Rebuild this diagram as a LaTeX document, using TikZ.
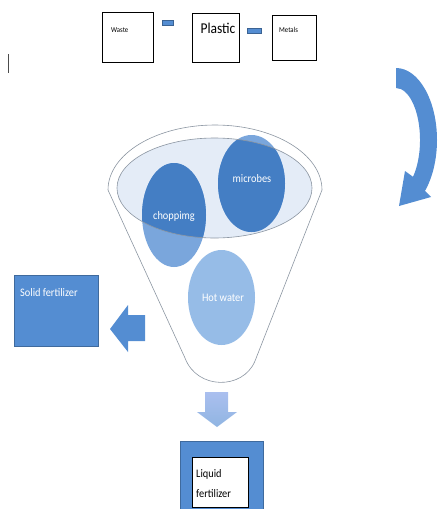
\documentclass[tikz,border=0pt]{standalone}
\usepackage{fontspec}
\setmainfont{Carlito}
\newfontfamily\lblfont[FakeStretch=0.9]{Carlito}
\usetikzlibrary{shapes.geometric,positioning,calc}
\definecolor{boxblue}{RGB}{84,141,210}
\definecolor{darkblue}{RGB}{68,126,196}
\definecolor{midblue}{RGB}{122,166,220}
\definecolor{paleblue}{RGB}{150,188,231}
\definecolor{rimblue}{RGB}{228,236,247}
\definecolor{edgegray}{RGB}{140,150,162}

\begin{document}
\begin{tikzpicture}
  [x=1pt,y=-1pt,
   itemB/.style={draw=black,line width=0.6pt,fill=white,inner sep=0pt},
   blueB/.style={draw=boxblue!75!black,fill=boxblue,line width=0.5pt,inner sep=0pt},
   dashB/.style={draw=boxblue!70!black,fill=boxblue,line width=0.4pt,inner sep=0pt,minimum height=5pt},
   ballN/.style={ellipse,inner sep=0pt},
   smallT/.style={font=\lblfont\fontsize{7.5}{8}\selectfont,inner sep=0pt},
   midT/.style={font=\lblfont\fontsize{11.5}{20}\selectfont,inner sep=0pt}]

  \useasboundingbox (0,0) rectangle (438,509);

  % top row
  \node[itemB,minimum width=51pt,minimum height=50pt] (waste) at (127.5,37) {};
  \node[itemB,minimum width=47pt,minimum height=49pt] (plastic) at (215.5,37.5) {};
  \node[itemB,minimum width=44pt,minimum height=45pt] (metals) at (294,37.5) {};
  \node[dashB,minimum width=11pt] (d1) at (167.5,22.5) {};
  \node[dashB,minimum width=14pt] (d2) at (254,30.5) {};
  \node[smallT,anchor=west] (wastet) at (111,30) {Waste};
  \node[font=\lblfont\fontsize{15}{16}\selectfont,inner sep=0pt] (plastict) at (218,28) {Plastic};
  \node[smallT,anchor=west] (metalst) at (279,30) {Metals};

  \draw[gray!60!black,line width=0.7pt] (8,54) coordinate (c1) -- (8,73) coordinate (c2);

  % funnel
  \draw[edgegray,line width=0.6pt,fill=white] (108,190)
     arc[start angle=180,end angle=360,x radius=107,y radius=65]
     -- (255,361) .. controls (243,390) and (197,390) .. (185,358) -- cycle;
  \fill[rimblue] (214.5,188) ellipse [x radius=97.5,y radius=50];

  \node[ballN,fill=midblue,minimum width=64pt,minimum height=104pt] (chop) at (174,215) {};
  \node[ballN,fill=midblue,minimum width=67pt,minimum height=97pt] (micro) at (251.5,183.5) {};
  \node[ballN,fill=paleblue,minimum width=67pt,minimum height=95pt] (hot) at (221.5,297.5) {};

  \begin{scope}
    \clip (214.5,188) ellipse [x radius=97.5,y radius=50];
    \fill[darkblue] (chop.center) ellipse [x radius=32,y radius=52];
    \fill[darkblue] (micro.center) ellipse [x radius=33.5,y radius=48.5];
  \end{scope}
  \draw[edgegray,line width=0.6pt] (214.5,188) ellipse [x radius=97.5,y radius=50];

  \node[midT,white] (chopt) at (174,216) {choppimg};
  \node[midT,white] (microt) at (252,179) {microbes};
  \node[midT,white] (hott) at (223,298) {Hot water};

  % outputs
  \node[blueB,minimum width=84pt,minimum height=71pt] (solid) at (56,310.5) {};
  \node[midT,white,anchor=west] (solidt) at (20,293) {Solid fertilizer};
  \fill[boxblue] (145,315) -- (128,315) -- (128,305) -- (110,329)
     -- (128,352) -- (128,341) -- (145,341) -- cycle;

  \shade[top color=blue!20!boxblue!45,bottom color=boxblue!65] (205,392) -- (228,392) -- (228,412)
     -- (237,412) -- (217,427) -- (197,412) -- (205,412) -- cycle;

  \node[blueB,minimum width=83pt,minimum height=72pt] (liquid) at (221.5,477) {};
  \node[itemB,minimum width=56pt,minimum height=50pt] (liquidw) at (220,482) {};
  \node[midT,align=left,anchor=west] (liquidt) at (196,484) {Liquid\\fertilizer};

  % turning arrow
  \fill[boxblue] (396,68) arc[start angle=-90,end angle=45,x radius=41,y radius=72]
     -- (431,197) -- (399,206) -- (405,171) -- (413,176.8)
     arc[start angle=45,end angle=-90,x radius=24,y radius=52] -- cycle;

\end{tikzpicture}
\end{document}
